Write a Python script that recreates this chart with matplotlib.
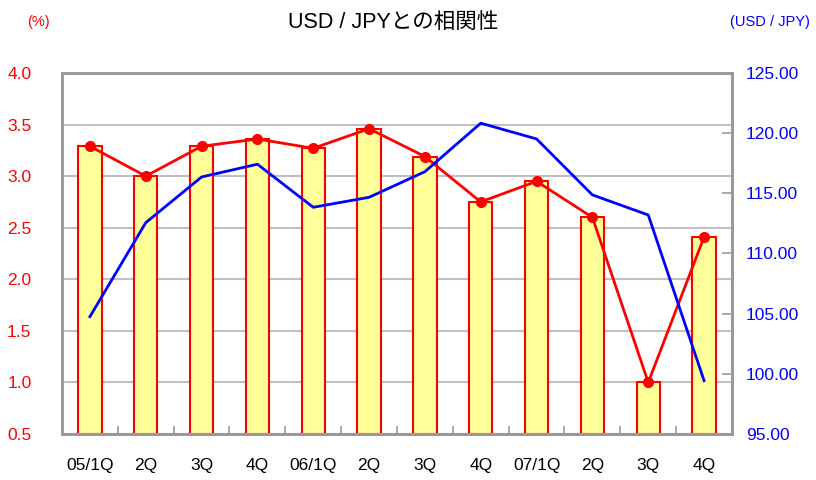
import matplotlib
matplotlib.use('Agg')
import numpy as np
import matplotlib.pyplot as plt
from matplotlib.ticker import FixedLocator

# quarters
labels = ['05/1Q', '2Q', '3Q', '4Q', '06/1Q', '2Q', '3Q', '4Q', '07/1Q', '2Q', '3Q', '4Q']
# bar / red line values (%)
rate = [3.29, 3.00, 3.29, 3.36, 3.27, 3.46, 3.19, 2.75, 2.95, 2.60, 1.00, 2.41]
# USD/JPY (right axis)
usdjpy = [104.75, 112.56, 116.36, 117.42, 113.84, 114.67, 116.80, 120.83, 119.52, 114.87, 113.20, 99.43]

FONT = ['Liberation Sans Narrow', 'Liberation Sans', 'Noto Sans CJK JP', 'DejaVu Sans']
plt.rcParams['font.family'] = FONT

GRID = '#c0c0c0'
SPINE = '#999999'

fig = plt.figure(figsize=(8.16, 4.8), dpi=100)
ax = fig.add_axes([62 / 816, 1 - 434 / 480, 670 / 816, 361 / 480])
ax2 = ax.twinx()

x = np.arange(len(labels)) + 0.5

ax.set_axisbelow(True)
ax.yaxis.grid(True, color=GRID, lw=1.5)
ax.bar(x, np.array(rate) - 0.5, bottom=0.5, width=0.42, color='#ffff99',
       edgecolor='red', lw=1.5, zorder=2)
ax.plot(x, rate, '-', color='red', lw=2, marker='o', ms=7, zorder=3)

ax2.plot(x, usdjpy, '-', color='blue', lw=2, zorder=3)

ax.set_xlim(0, 12)
ax.set_ylim(0.5, 4.0)
ax.set_yticks(np.arange(0.5, 4.01, 0.5))
ax.set_yticklabels(['{:.1f}'.format(v) for v in np.arange(0.5, 4.01, 0.5)])
ax2.set_ylim(95, 125)
ax2.set_yticks(np.arange(95, 125.1, 5))
ax2.set_yticklabels(['{:.2f}'.format(v) for v in np.arange(95, 125.1, 5)])

ax.xaxis.set_major_locator(FixedLocator(x))
ax.set_xticklabels(labels)
ax.xaxis.set_minor_locator(FixedLocator(np.arange(1, 12)))
ax.tick_params(axis='x', which='major', length=0, pad=17, labelsize=12.5, labelcolor='black')
ax.tick_params(axis='x', which='minor', direction='in', length=6, width=1.2, color=SPINE)
ax.tick_params(axis='y', length=0, pad=22, labelsize=12.5, labelcolor='red')
ax2.tick_params(axis='y', direction='in', length=7, width=1.2, color=SPINE,
                pad=10, labelsize=12.5, labelcolor='blue')

for a in (ax, ax2):
    for s in a.spines.values():
        s.set_color(SPINE)
        s.set_linewidth(2)

fig.text(393 / 816, 1 - 22 / 480, 'USD / JPYとの相関性', ha='center', va='center',
         fontsize=15.5, family=FONT)
fig.text(38 / 816, 1 - 22 / 480, '(%)', ha='center', va='center', fontsize=10.5, color='red')
fig.text(770 / 816, 1 - 22 / 480, '(USD / JPY)', ha='center', va='center', fontsize=10.5, color='blue')

fig.savefig('out.png', dpi=100)
